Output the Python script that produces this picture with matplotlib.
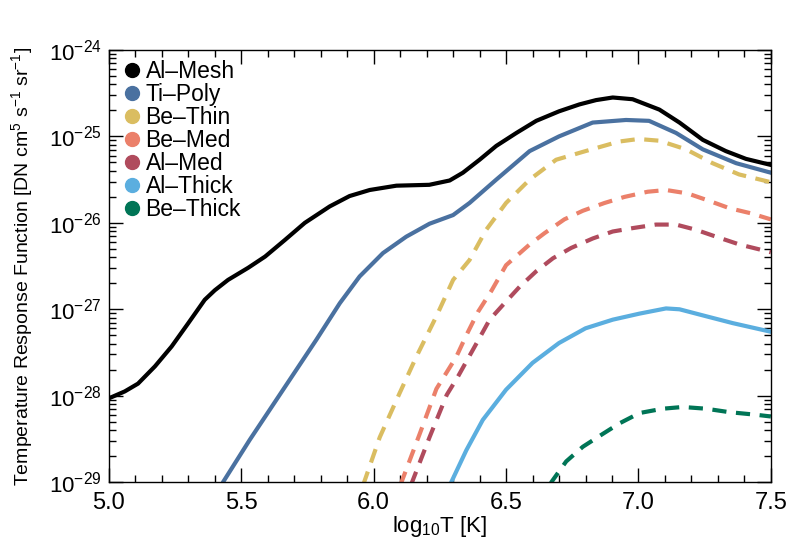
import matplotlib
matplotlib.use("Agg")
import matplotlib.pyplot as plt
from matplotlib.lines import Line2D
from matplotlib.ticker import LogLocator, MultipleLocator, NullFormatter, LogFormatterMathtext
import numpy as np

plt.rcParams["font.family"] = ["Liberation Sans", "DejaVu Sans"]
plt.rcParams["mathtext.default"] = "regular"

# log10(T), log10(response)
al_mesh_t = [5.00, 5.06, 5.11, 5.174, 5.237, 5.30, 5.362, 5.40, 5.45, 5.526, 5.59, 5.664,
             5.74, 5.834, 5.909, 5.985, 6.086, 6.21, 6.287, 6.337, 6.40, 6.463, 6.539,
             6.614, 6.70, 6.777, 6.84, 6.903, 6.978, 7.079, 7.155, 7.243, 7.33, 7.406, 7.50]
al_mesh_r = [-28.03, -27.95, -27.86, -27.66, -27.43, -27.16, -26.89, -26.78, -26.66, -26.52,
             -26.39, -26.20, -26.00, -25.81, -25.69, -25.62, -25.57, -25.56, -25.51, -25.42,
             -25.27, -25.11, -24.96, -24.82, -24.71, -24.63, -24.58, -24.55, -24.57, -24.69,
             -24.84, -25.04, -25.17, -25.26, -25.33]

ti_poly_t = [5.40, 5.431, 5.532, 5.658, 5.784, 5.872, 5.947, 6.035, 6.123, 6.211, 6.30,
             6.362, 6.463, 6.589, 6.70, 6.827, 6.953, 7.04, 7.142, 7.243, 7.369, 7.50]
ti_poly_r = [-29.4, -29.0, -28.51, -27.93, -27.35, -26.93, -26.62, -26.35, -26.16, -26.01,
             -25.91, -25.77, -25.50, -25.17, -25.00, -24.84, -24.81, -24.82, -24.96, -25.15,
             -25.31, -25.42]

be_thin_t = [5.94, 5.964, 6.023, 6.098, 6.161, 6.237, 6.30, 6.362, 6.425, 6.50, 6.589,
             6.689, 6.80, 6.926, 7.00, 7.079, 7.18, 7.28, 7.38, 7.50]
be_thin_r = [-29.3, -29.0, -28.48, -27.97, -27.55, -27.08, -26.66, -26.43, -26.08, -25.77,
             -25.50, -25.27, -25.17, -25.06, -25.03, -25.05, -25.15, -25.31, -25.44, -25.53]

be_med_t = [6.08, 6.105, 6.174, 6.237, 6.312, 6.35, 6.394, 6.444, 6.50, 6.589, 6.645,
            6.72, 6.79, 6.872, 6.947, 7.035, 7.104, 7.186, 7.262, 7.343, 7.425, 7.50]
be_med_r = [-29.3, -29.0, -28.44, -27.92, -27.55, -27.30, -27.03, -26.79, -26.49, -26.25,
            -26.12, -25.96, -25.86, -25.77, -25.70, -25.64, -25.62, -25.66, -25.74, -25.83,
            -25.89, -25.96]

al_med_t = [6.12, 6.145, 6.211, 6.276, 6.318, 6.40, 6.438, 6.494, 6.551, 6.614, 6.677,
            6.746, 6.828, 6.903, 6.98, 7.066, 7.142, 7.217, 7.293, 7.381, 7.50]
al_med_r = [-29.3, -29.0, -28.48, -27.99, -27.78, -27.33, -27.12, -26.93, -26.74, -26.56,
            -26.41, -26.29, -26.18, -26.10, -26.06, -26.02, -26.02, -26.08, -26.16, -26.25,
            -26.34]

al_thick_t = [6.27, 6.293, 6.35, 6.412, 6.50, 6.60, 6.70, 6.80, 6.903, 7.004, 7.104,
              7.155, 7.255, 7.356, 7.50]
al_thick_r = [-29.3, -29.0, -28.63, -28.28, -27.93, -27.62, -27.39, -27.22, -27.12, -27.05,
              -26.99, -27.00, -27.08, -27.16, -27.26]

be_thick_t = [6.65, 6.671, 6.727, 6.79, 6.866, 6.928, 7.004, 7.092, 7.167, 7.255, 7.343,
              7.444, 7.50]
be_thick_r = [-29.3, -29.0, -28.76, -28.59, -28.44, -28.32, -28.20, -28.15, -28.13, -28.15,
              -28.19, -28.22, -28.24]

y_ticks = [1e-29, 1e-28, 1e-27, 1e-26, 1e-25, 1e-24]

series = [
    ("Al\u2013Mesh", al_mesh_t, al_mesh_r, "#000000", "-"),
    ("Ti\u2013Poly", ti_poly_t, ti_poly_r, "#4A71A0", "-"),
    ("Be\u2013Thin", be_thin_t, be_thin_r, "#DABD61", "--"),
    ("Be\u2013Med", be_med_t, be_med_r, "#EB806A", "--"),
    ("Al\u2013Med", al_med_t, al_med_r, "#B04B5D", "--"),
    ("Al\u2013Thick", al_thick_t, al_thick_r, "#5BAEDF", "-"),
    ("Be\u2013Thick", be_thick_t, be_thick_r, "#007556", "--"),
]

fig = plt.figure(figsize=(7.89, 5.43), dpi=100)
ax = fig.add_axes([0.138, 0.112, 0.839, 0.796])

for name, t, r, color, ls in series:
    line, = ax.plot(t, 10.0 ** np.array(r), color=color, lw=3, ls=ls)
    if ls == "--":
        line.set_dashes((3.4, 2.3))

ax.set_yscale("log")
ax.set_xlim(5.0, 7.5)
ax.set_ylim(1e-29, 1e-24)
ax.xaxis.set_major_locator(MultipleLocator(0.5))
ax.xaxis.set_minor_locator(MultipleLocator(0.1))
ax.xaxis.set_major_formatter(matplotlib.ticker.FormatStrFormatter("%.1f"))
ax.set_yticks(y_ticks)
ax.yaxis.set_major_formatter(LogFormatterMathtext())
ax.yaxis.set_minor_locator(LogLocator(base=10, subs=np.arange(2, 10), numticks=20))
ax.yaxis.set_minor_formatter(NullFormatter())

ax.tick_params(which="both", direction="in", top=True, right=True)
ax.tick_params(axis="x", labelsize=17, pad=7)
ax.tick_params(axis="y", labelsize=16, pad=5)
ax.tick_params(which="major", length=10, width=1)
ax.tick_params(which="minor", length=5, width=1)
for s in ax.spines.values():
    s.set_linewidth(1)

ax.set_xlabel("log$_{10}$T [K]", fontsize=16, labelpad=0)
ax.set_ylabel("Temperature Response Function [DN cm$^5$ s$^{-1}$ sr$^{-1}$]",
              fontsize=14, labelpad=10)

handles = [Line2D([], [], marker="o", ls="none", color=c, markersize=10)
           for _, _, _, c, _ in series]
ax.legend(handles, [s[0] for s in series], loc="upper left", frameon=False,
          fontsize=16.5, handletextpad=0.05, labelspacing=0.0, borderaxespad=0.25,
          handlelength=1.1, borderpad=0.2)

fig.savefig("out.png", dpi=100)
